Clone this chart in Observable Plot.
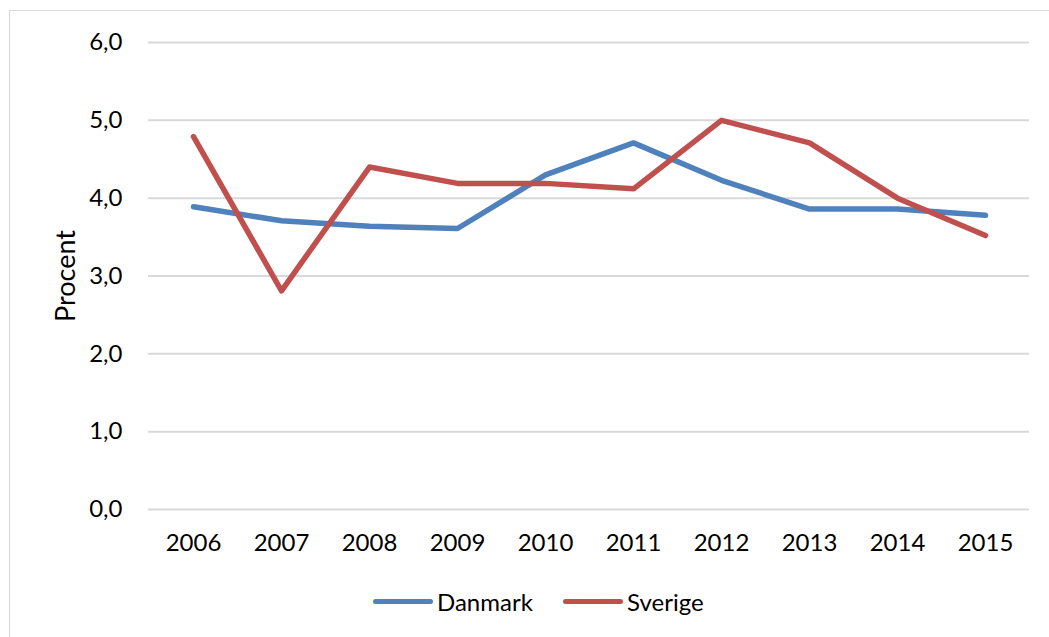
<!DOCTYPE html>
<html>
<head>
<meta charset="utf-8">
<script src="https://cdn.jsdelivr.net/npm/d3@7"></script>
<script src="https://cdn.jsdelivr.net/npm/@observablehq/plot@0.6"></script>
<style>
  html, body { margin: 0; padding: 0; background: #fff; }
  body { width: 1049px; height: 637px; overflow: hidden; position: relative; font-family: Lato, "Open Sans", sans-serif; }
  #frame { position: absolute; left: 9px; top: 10px; width: 1100px; height: 700px; border: 1px solid #d9d9d9; box-sizing: border-box; }
  #chart { position: absolute; left: 0; top: 0; }
  #legend { position: absolute; left: 0; top: 585px; width: 1049px; height: 32px; }
  .item { position: absolute; top: 0; display: flex; align-items: center; height: 32px; font-size: 24px; color: #000; }
  .swatch { width: 60px; height: 5px; border-radius: 3px; margin-right: 4px; }
</style>
</head>
<body>
<div id="frame"></div>
<div id="chart"></div>
<div id="legend"></div>
<script>
const years = [2006, 2007, 2008, 2009, 2010, 2011, 2012, 2013, 2014, 2015];
const danmark = [3.89, 3.71, 3.64, 3.61, 4.30, 4.71, 4.23, 3.86, 3.86, 3.78];
const sverige = [4.79, 2.81, 4.40, 4.19, 4.19, 4.12, 5.00, 4.71, 4.00, 3.52];
const seriesNames = ["Danmark", "Sverige"];
const seriesColors = ["#4F81BD", "#C0504D"];
const yTicks = [0, 1, 2, 3, 4, 5, 6];

const rows = [];
years.forEach((yr, i) => {
  rows.push({year: yr, value: danmark[i], series: seriesNames[0]});
  rows.push({year: yr, value: sverige[i], series: seriesNames[1]});
});

const fmt = d => d.toFixed(1).replace(".", ",");

const plot = Plot.plot({
  width: 1049,
  height: 575,
  marginLeft: 148,
  marginRight: 20,
  marginTop: 42,
  marginBottom: 66,
  style: {fontFamily: "Lato, 'Open Sans', sans-serif", fontSize: "24px", color: "#000", background: "transparent"},
  x: {type: "point", domain: years, padding: 0.5, label: null},
  y: {domain: [0, 6], label: null},
  color: {domain: seriesNames, range: seriesColors},
  marks: [
    Plot.gridY(yTicks, {stroke: "#d9d9d9", strokeOpacity: 1, strokeWidth: 2}),
    Plot.axisY({ticks: yTicks, tickFormat: fmt, tickSize: 0, tickPadding: 26, label: null, fontSize: 24}),
    Plot.axisX({tickSize: 0, tickPadding: 24, tickFormat: d => String(d), label: null, fontSize: 24}),
    Plot.text(["Procent"], {frameAnchor: "left", textAnchor: "middle", dx: -82, rotate: -90, fontSize: 27, fill: "#000"}),
    Plot.lineY(rows, {x: "year", y: "value", stroke: "series", strokeWidth: 5.5, strokeLinecap: "round", strokeLinejoin: "round", curve: "linear"})
  ]
});
document.getElementById("chart").appendChild(plot);

const legend = document.getElementById("legend");
const lefts = [373, 563];
seriesNames.forEach((name, i) => {
  const item = document.createElement("div");
  item.className = "item";
  item.style.left = lefts[i] + "px";
  const sw = document.createElement("div");
  sw.className = "swatch";
  sw.style.background = seriesColors[i];
  item.appendChild(sw);
  const t = document.createElement("span");
  t.textContent = name;
  item.appendChild(t);
  legend.appendChild(item);
});
</script>
</body>
</html>
